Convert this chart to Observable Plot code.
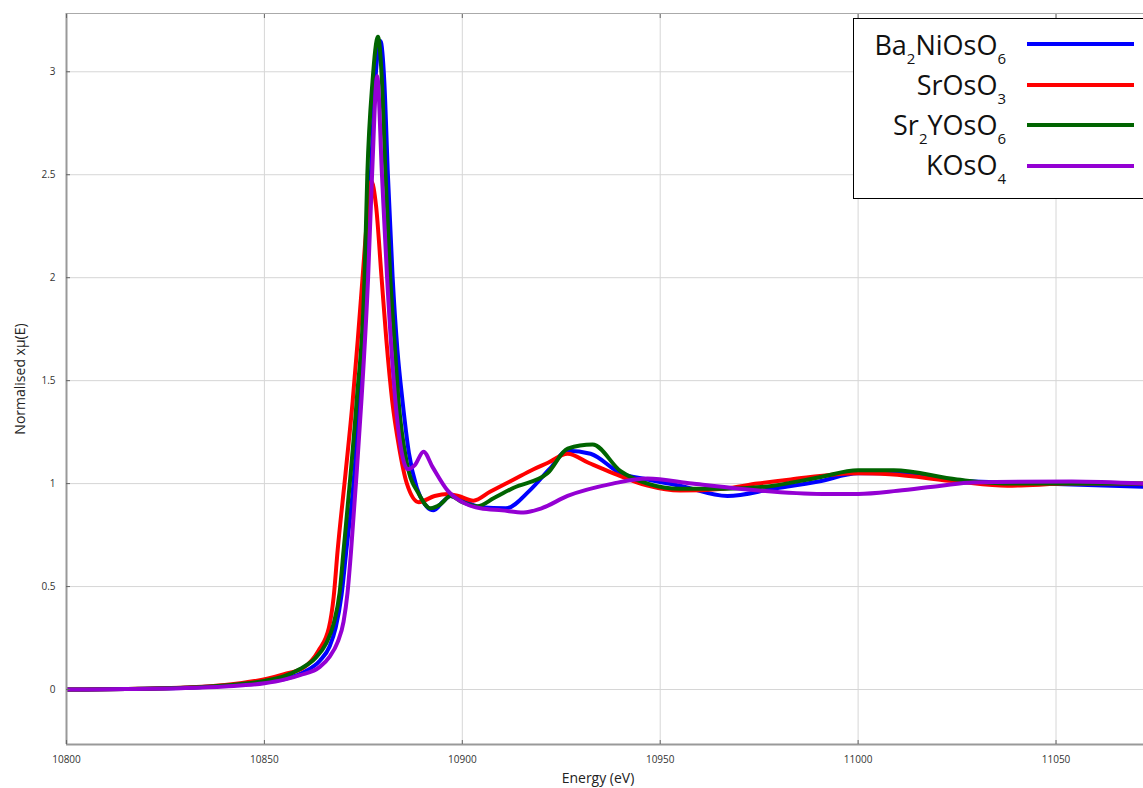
<!DOCTYPE html>
<html>
<head>
<meta charset="utf-8">
<script src="https://cdn.jsdelivr.net/npm/d3@7"></script>
<script src="https://cdn.jsdelivr.net/npm/@observablehq/plot@0.6"></script>
<style>
  html, body { margin: 0; padding: 0; background: #fff; overflow: hidden; }
  #wrap { position: relative; width: 1143px; height: 788px; overflow: hidden; }
  #wrap svg { position: absolute; left: 0; top: 0; }
  #legend {
    position: absolute; left: 853px; top: 18px; width: 330px; height: 179px;
    border: 1px solid #000; background: #fff;
    font-family: "Open Sans", "Noto Sans", sans-serif; color: #111;
  }
  .lg-name {
    position: absolute; left: 0; width: 152px; text-align: right;
    font-size: 27px; line-height: 27px; white-space: nowrap;
  }
  .lg-name sub { font-size: 15px; vertical-align: baseline; position: relative; top: 9px; }
  .lg-line { position: absolute; left: 173px; width: 107px; height: 4px; }
</style>
</head>
<body>
<div id="wrap"></div>
<script>
// Os L3-edge XANES spectra, normalised absorption vs photon energy
const sampleNames = ["Ba2NiOsO6", "SrOsO3", "Sr2YOsO6", "KOsO4"];
const sampleColors = ["#0000ff", "#ff0000", "#006400", "#9400d3"];

const baNiEnergy = [10800, 10815, 10830, 10840, 10850, 10856, 10860, 10864, 10866.5, 10868, 10869.5, 10870.7, 10872.5, 10874, 10875.8, 10876.9, 10878, 10879.3, 10880.3, 10881.2, 10882.4, 10883.6, 10884.9, 10886.5, 10888.5, 10890.5, 10892.7, 10895, 10897, 10900, 10904.6, 10911, 10917, 10922, 10926.6, 10932.4, 10940, 10946.8, 10955, 10967, 10978.6, 10990, 11000, 11009, 11025, 11046, 11072];
const baNiMu     = [0, 0.002, 0.008, 0.018, 0.035, 0.055, 0.085, 0.14, 0.21, 0.3, 0.46, 0.675, 1.0, 1.4, 2.0, 2.5, 2.95, 3.15, 2.95, 2.5, 2.0, 1.65, 1.4, 1.15, 0.98, 0.9, 0.87, 0.91, 0.94, 0.92, 0.885, 0.88, 0.966, 1.07, 1.16, 1.145, 1.05, 1.02, 0.99, 0.94, 0.975, 1.01, 1.05, 1.05, 1.015, 1.0, 0.985];

const srOsEnergy = [10800, 10815, 10830, 10840, 10850.7, 10855, 10860, 10863.7, 10866.3, 10867.5, 10868.5, 10870.5, 10872.3, 10873.6, 10874.8, 10876, 10877, 10878.2, 10879.6, 10880.8, 10882.3, 10884, 10886, 10889, 10893, 10896.3, 10899, 10902.8, 10907, 10913, 10918, 10921.5, 10926.6, 10932, 10938.2, 10946.8, 10955, 10966, 10974.6, 10983, 11000, 11008, 11025, 11037.7, 11054, 11072];
const srOsMu     = [0, 0.003, 0.01, 0.022, 0.053, 0.075, 0.108, 0.19, 0.3, 0.45, 0.675, 1.05, 1.4, 1.7, 2.0, 2.3, 2.47, 2.35, 2.0, 1.7, 1.4, 1.18, 1.0, 0.91, 0.94, 0.95, 0.94, 0.917, 0.96, 1.02, 1.07, 1.1, 1.145, 1.1, 1.05, 0.99, 0.966, 0.975, 1.0, 1.02, 1.05, 1.045, 1.01, 0.99, 1.0, 1.0];

const srYEnergy = [10800, 10815, 10830, 10840, 10850, 10855, 10859, 10863, 10865.5, 10867.5, 10869, 10870, 10871.8, 10873.3, 10875.3, 10876, 10877.3, 10878.7, 10879.7, 10880.6, 10881.8, 10883, 10883.9, 10886, 10889, 10892, 10894.5, 10897, 10900, 10903.8, 10908, 10913, 10921.5, 10926.6, 10932.9, 10940, 10946.8, 10955, 10966, 10978.6, 10990, 11000, 11009, 11025, 11037.7, 11072];
const srYMu     = [0, 0.003, 0.009, 0.02, 0.042, 0.065, 0.1, 0.155, 0.22, 0.32, 0.47, 0.675, 1.05, 1.4, 2.0, 2.5, 2.95, 3.17, 2.95, 2.5, 2.0, 1.65, 1.4, 1.1, 0.95, 0.88, 0.9, 0.94, 0.91, 0.89, 0.93, 0.98, 1.05, 1.17, 1.19, 1.06, 1.0, 0.975, 0.975, 0.99, 1.03, 1.065, 1.065, 1.02, 1.0, 1.0];

const kOsEnergy = [10800, 10815, 10830, 10840, 10850, 10855, 10859, 10864, 10866.5, 10868.5, 10870, 10871, 10871.9, 10873.3, 10874.5, 10876.2, 10877.2, 10878.5, 10879.7, 10881, 10883.1, 10884.7, 10886.2, 10888, 10890.2, 10892.5, 10896.3, 10900, 10904.6, 10910, 10915.5, 10920, 10926.6, 10938, 10946.8, 10958, 10970, 10991, 11000, 11010, 11021, 11029, 11054, 11072];
const kOsMu     = [0, 0.002, 0.007, 0.015, 0.03, 0.048, 0.07, 0.11, 0.16, 0.23, 0.33, 0.47, 0.675, 1.05, 1.4, 2.0, 2.5, 2.98, 2.5, 2.0, 1.4, 1.15, 1.07, 1.09, 1.155, 1.08, 0.966, 0.91, 0.88, 0.87, 0.86, 0.88, 0.94, 1.0, 1.025, 1.0, 0.975, 0.95, 0.95, 0.965, 0.99, 1.005, 1.01, 1.0];

const xTicks = [10800, 10850, 10900, 10950, 11000, 11050];
const yTicks = [0, 0.5, 1, 1.5, 2, 2.5, 3];
const xDomain = [10800, 11072.1];
const yDomain = [-0.267, 3.283];

const seriesEnergy = [baNiEnergy, srOsEnergy, srYEnergy, kOsEnergy];
const seriesMu = [baNiMu, srOsMu, srYMu, kOsMu];
const rows = sampleNames.flatMap((name, s) =>
  seriesEnergy[s].map((e, i) => ({sample: name, energy: e, mu: seriesMu[s][i]}))
);

const fmtX = d3.format("d");
const fmtY = d3.format("~g");
const blank = () => "";

const chart = Plot.plot({
  width: 1143,
  height: 788,
  marginLeft: 66,
  marginRight: 0,
  marginTop: 13,
  marginBottom: 44,
  style: {fontFamily: "'Open Sans', 'Noto Sans', sans-serif", fontSize: "10px", color: "#333", background: "transparent"},
  x: {domain: xDomain},
  y: {domain: yDomain},
  color: {domain: sampleNames, range: sampleColors},
  marks: [
    Plot.ruleX(xTicks, {stroke: "#d6d6d6", strokeWidth: 1}),
    Plot.ruleY(yTicks, {stroke: "#d6d6d6", strokeWidth: 1}),
    Plot.frame({stroke: "#aaa", strokeWidth: 1}),
    Plot.line(rows, {x: "energy", y: "mu", z: "sample", stroke: "sample", strokeWidth: 4, curve: "monotone-x", clip: true}),
    Plot.ruleX([xDomain[0]], {stroke: "#999", strokeWidth: 2}),
    Plot.ruleY([yDomain[0]], {stroke: "#999", strokeWidth: 2}),
    // inward tick marks
    Plot.axisX(xTicks, {anchor: "bottom", tickSize: 4, dy: -4, tickFormat: blank, label: null, stroke: "#666"}),
    Plot.axisX(xTicks, {anchor: "top", tickSize: 4, dy: 4, tickFormat: blank, label: null, stroke: "#666"}),
    Plot.axisY(yTicks, {anchor: "left", tickSize: 4, dx: 4, tickFormat: blank, label: null, stroke: "#666"}),
    // tick labels
    Plot.axisX(xTicks, {anchor: "bottom", tickSize: 0, tickPadding: 11, tickFormat: fmtX, label: null}),
    Plot.axisY(yTicks, {anchor: "left", tickSize: 0, tickPadding: 11, tickFormat: fmtY, label: null}),
    // axis titles
    Plot.text(["Energy (eV)"], {frameAnchor: "bottom", textAnchor: "middle", lineAnchor: "middle", dy: 34, dx: -7, fontSize: 14, fill: "#222"}),
    Plot.text(["Normalised xμ(E)"], {frameAnchor: "left", textAnchor: "middle", lineAnchor: "middle", rotate: -90, dx: -46, fontSize: 14, fill: "#222"})
  ]
});

const wrap = document.getElementById("wrap");
wrap.appendChild(chart);

// legend box with chemical formulas (digits as subscripts)
const legend = document.createElement("div");
legend.id = "legend";
sampleNames.forEach((name, i) => {
  const label = document.createElement("div");
  label.className = "lg-name";
  label.style.top = (12 + i * 40) + "px";
  label.innerHTML = name.replace(/(\d)/g, "<sub>$1</sub>");
  legend.appendChild(label);
  const swatch = document.createElement("div");
  swatch.className = "lg-line";
  swatch.style.top = (23 + i * 40.5) + "px";
  swatch.style.background = sampleColors[i];
  legend.appendChild(swatch);
});
wrap.appendChild(legend);
</script>
</body>
</html>
